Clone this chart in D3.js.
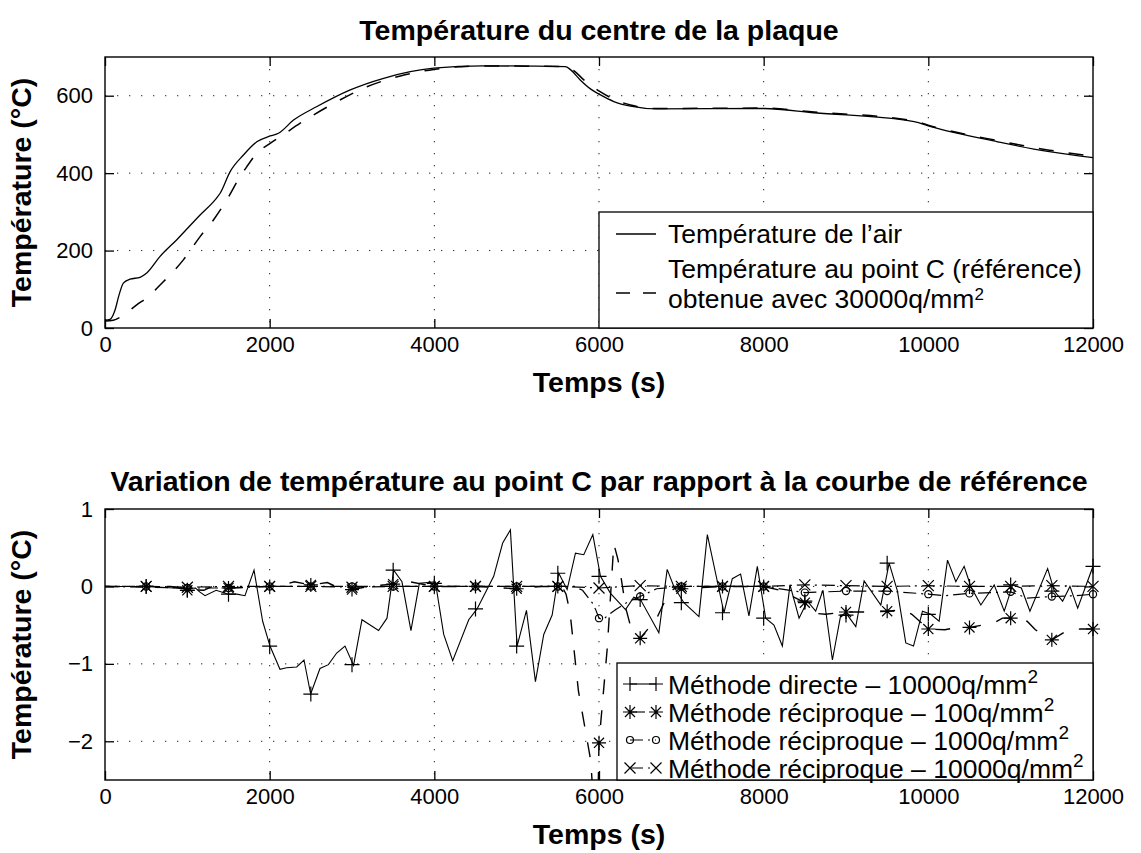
<!DOCTYPE html>
<html><head><meta charset="utf-8">
<script src="https://cdn.jsdelivr.net/npm/d3@7"></script>
<style>
body{margin:0;background:#fff}
text{font-family:"Liberation Sans",Arial,Helvetica,sans-serif;fill:#000}
</style>
</head><body>
<svg id="c" width="1141" height="853"></svg>
<script>
// ---------- DATA ----------
const xTicks = [0, 2000, 4000, 6000, 8000, 10000, 12000];
const y1Ticks = [0, 200, 400, 600];
const y2Ticks = [-2, -1, 0, 1];

// top chart
const airTime = [0,60,120,170,223,304,426,507,669,872,1155,1337,1398,1520,1682,1844,2006,2107,2290,2574,2979,3384,3992,4600,5593,5650,5775,5900,6018,6180,6383,6707,8004,8612,9828,10030,10841,11449,12000];
const airTemp = [20,22,45,85,116,126,131,142,185,228,292,331,348,404,447,481,496,503,537,572,615,645,671,677,675,668,640,617,602,585,573,566,567,556,533,520,481,456,440];
const refTime = [0,100,203,385,527,669,790,952,1155,1317,1479,1641,1723,1844,2006,2128,2371,2776,3181,3587,3992,4600,5593,5694,5815,6018,6200,6383,6707,8004,8612,9828,10030,10841,11449,12000];
const refTemp = [18,20,30,60,81,111,137,176,236,279,331,391,417,451,477,494,529,580,623,651,668,677,675,665,641,610,589,576,567,568,558,535,522,484,460,444];

// bottom chart
const markTimes = [500,1000,1500,2000,2500,3000,3500,4000,4500,5000,5500,6000,6500,7000,7500,8000,8500,9000,9500,10000,10500,11000,11500,12000];

const directTime = [0,500,1000,1100,1150,1215,1350,1500,1600,1700,1810,1915,2004,2125,2206,2328,2417,2498,2611,2713,2814,2915,3019,3121,3323,3425,3506,3607,3716,3818,4012,4114,4223,4418,4519,4721,4830,4924,5005,5119,5228,5329,5431,5511,5613,5714,5815,5925,6018,6140,6322,6423,6504,6727,6828,6909,7031,7214,7316,7518,7619,7720,7821,7923,8024,8125,8227,8320,8430,8531,8632,8720,8835,8936,9018,9119,9220,9423,9524,9625,9726,9820,9929,10030,10131,10233,10334,10435,10516,10638,10800,10922,11024,11130,11234,11449,11530,11631,11720,11814,12000];
const directVal = [0,0,-0.03,-0.02,-0.07,-0.12,-0.05,-0.1,-0.1,-0.12,0.21,-0.45,-0.77,-1.07,-1.05,-1.04,-0.95,-1.39,-1.06,-1.01,-0.86,-0.77,-1.02,-0.43,-0.57,-0.41,0.21,0.06,-0.57,0.04,0.06,-0.62,-0.96,-0.43,-0.29,0.13,0.56,0.73,-0.77,-0.31,-1.23,-0.62,-0.37,0.17,-0.04,0.43,0.41,0.67,0.13,-0.09,-0.3,-0.14,-0.17,-0.6,0.22,0.0,-0.21,-0.39,0.67,-0.34,0.1,0.16,-0.38,0.26,-0.41,-0.5,-0.77,0.02,-0.41,-0.19,-0.32,-0.05,-0.95,-0.37,-0.37,-0.52,0.07,-0.24,0.30,-0.06,-0.73,-0.77,-0.32,-0.36,-0.45,0.34,0.06,0.26,0.0,-0.24,0.02,-0.32,0.02,-0.02,-0.32,0.23,-0.06,-0.19,0.0,-0.28,0.26];
const directMarks = [0,-0.05,-0.1,-0.77,-1.39,-1.01,0.21,0.04,-0.29,-0.77,0.17,0.13,-0.17,-0.21,-0.34,-0.41,-0.19,-0.37,0.30,-0.36,0.0,0.02,-0.06,0.26];

const recip100Time = [0,500,800,1000,1200,1300,1500,2000,2200,2300,2500,2700,2800,3000,3200,3500,3700,4000,4500,5000,5300,5550,5600,5650,5750,5900,5975,6000,6100,6180,6230,6270,6330,6400,6500,6650,6710,6850,6950,7000,7500,8000,8200,8500,8650,8750,9000,9200,9500,9700,9800,10000,10200,10300,10500,10800,10900,11000,11200,11300,11500,11700,11850,12000];
const recip100Val = [0,0,0,-0.04,-0.05,0,-0.02,0,0.03,0.06,0.02,0.05,0,-0.04,0,0.03,0.06,0,0,-0.03,0,0,-0.1,-0.35,-1.35,-2.25,-3.5,-2.02,-0.8,0.55,0.35,0.1,-0.3,-0.58,-0.67,-0.48,-0.39,-0.08,0,-0.03,0,0,-0.05,-0.21,-0.35,-0.36,-0.33,-0.33,-0.32,-0.3,-0.36,-0.55,-0.56,-0.54,-0.53,-0.47,-0.41,-0.41,-0.45,-0.56,-0.69,-0.56,-0.55,-0.55];
const recip100Marks = [0,-0.05,-0.02,0,0.02,-0.04,0.03,0,0,-0.03,0,-2.02,-0.67,-0.03,0,0,-0.21,-0.33,-0.32,-0.55,-0.53,-0.41,-0.69,-0.55];

const recip1000Time = [0,1000,1500,2000,5500,5700,5800,5917,5960,6000,6050,6100,6200,6350,6500,6700,7000,8000,8500,9000,9500,10000,10200,10500,11000,11200,11500,11800,12000];
const recip1000Val = [0,-0.02,-0.02,0,0,0,-0.05,-0.21,-0.3,-0.41,-0.43,-0.38,-0.3,-0.2,-0.13,-0.03,0,0,-0.08,-0.06,-0.06,-0.1,-0.12,-0.09,-0.07,-0.15,-0.13,-0.12,-0.1];
const recip1000Marks = [0,-0.02,-0.02,0,0,0,0,0,0,0,0,-0.41,-0.13,0,0,0,-0.08,-0.06,-0.06,-0.1,-0.09,-0.07,-0.13,-0.1];

const recip10000Marks = [0,-0.01,0,0,0,-0.01,0,0,0,0,0,-0.02,0.01,0,0,0,0.02,0.01,0,0.01,0,0,0.01,0];

const topLegend = ["Température de l\u2019air", "Température au point C (référence)", "obtenue avec 30000q/mm"];
const bottomLegend = ["Méthode directe \u2013 10000q/mm", "Méthode réciproque \u2013 100q/mm", "Méthode réciproque \u2013 1000q/mm", "Méthode réciproque \u2013 10000q/mm"];

// ---------- LAYOUT ----------
const svg = d3.select("#c");
const L = 105, R = 1093;
const T1 = 57, B1 = 328, T2 = 509, B2 = 780;
const x = d3.scaleLinear().domain([0, 12000]).range([L, R]);
const y1 = d3.scaleLinear().domain([0, 700]).range([B1, T1]);
const y2 = d3.scaleLinear().domain([-2.5, 1]).range([B2, T2]);
const TICK = 9, TFS = 22, LFS = 28.5, LEGFS = 26.5;
const fmtY2 = d => d < 0 ? "\u2212" + Math.abs(d) : String(d);

function frame(yScale, yTicks, top, bottom, fmt, title, titleY, clipId) {
  const g = svg.append("g");
  g.append("g").selectAll("line.gx").data(xTicks.filter(t => t > 0 && t < 12000)).join("line")
    .attr("x1", d => x(d)).attr("x2", d => x(d)).attr("y1", top).attr("y2", bottom)
    .attr("stroke", "#222").attr("stroke-width", 1).attr("stroke-dasharray", "1.3,10.7");
  g.append("g").selectAll("line.gy").data(yTicks.filter(t => yScale(t) > top + 1 && yScale(t) < bottom - 1)).join("line")
    .attr("x1", L).attr("x2", R).attr("y1", d => yScale(d)).attr("y2", d => yScale(d))
    .attr("stroke", "#222").attr("stroke-width", 1).attr("stroke-dasharray", "1.3,10.7");
  const ax = g.append("g").attr("transform", `translate(0,${bottom})`)
    .call(d3.axisBottom(x).tickValues(xTicks).tickSize(-TICK).tickPadding(8).tickFormat(d3.format("d")));
  const axT = g.append("g").attr("transform", `translate(0,${top})`)
    .call(d3.axisTop(x).tickValues(xTicks).tickSize(-TICK).tickFormat(""));
  const ay = g.append("g").attr("transform", `translate(${L},0)`)
    .call(d3.axisLeft(yScale).tickValues(yTicks).tickSize(-TICK).tickPadding(12).tickFormat(fmt));
  const ayR = g.append("g").attr("transform", `translate(${R},0)`)
    .call(d3.axisRight(yScale).tickValues(yTicks).tickSize(-TICK).tickFormat(""));
  [ax, axT, ay, ayR].forEach(a => {
    a.select(".domain").remove();
    a.selectAll("line").attr("stroke", "#000").attr("stroke-width", 1.3);
    a.selectAll("text").attr("font-size", TFS).attr("fill", "#000")
      .style("font-family", '"Liberation Sans",Arial,sans-serif');
  });
  g.append("rect").attr("x", L).attr("y", top).attr("width", R - L).attr("height", bottom - top)
    .attr("fill", "none").attr("stroke", "#000").attr("stroke-width", 1.4);
  svg.append("text").attr("x", (L + R) / 2).attr("y", titleY).attr("text-anchor", "middle")
    .attr("font-size", LFS).attr("font-weight", "bold").text(title);
  svg.append("text").attr("x", (L + R) / 2).attr("y", bottom + 64).attr("text-anchor", "middle")
    .attr("font-size", LFS).attr("font-weight", "bold").text("Temps (s)");
  svg.append("text").attr("transform", `translate(31,${(top + bottom) / 2}) rotate(-90)`)
    .attr("text-anchor", "middle").attr("font-size", LFS).attr("font-weight", "bold").text("Température (°C)");
  svg.append("clipPath").attr("id", clipId).append("rect")
    .attr("x", L).attr("y", top).attr("width", R - L).attr("height", bottom - top);
}

frame(y1, y1Ticks, T1, B1, d3.format("d"), "Température du centre de la plaque", 40, "clip1");
frame(y2, y2Ticks, T2, B2, fmtY2, "Variation de température au point C par rapport à la courbe de référence", 491, "clip2");

// ---------- TOP LINES ----------
const line1 = d3.line().x(d => x(d[0])).y(d => y1(d[1])).curve(d3.curveMonotoneX);
const gTop = svg.append("g").attr("clip-path", "url(#clip1)");
gTop.append("path").attr("d", line1(d3.zip(refTime, refTemp)))
  .attr("fill", "none").attr("stroke", "#000").attr("stroke-width", 1.5).attr("stroke-dasharray", "15,15");
gTop.append("path").attr("d", line1(d3.zip(airTime, airTemp)))
  .attr("fill", "none").attr("stroke", "#000").attr("stroke-width", 1.3);

// top legend
const lg1 = svg.append("g");
lg1.append("rect").attr("x", 599).attr("y", 212).attr("width", R - 599).attr("height", B1 - 212)
  .attr("fill", "#fff").attr("stroke", "#000").attr("stroke-width", 1.3);
lg1.append("line").attr("x1", 616).attr("x2", 656).attr("y1", 234).attr("y2", 234)
  .attr("stroke", "#000").attr("stroke-width", 1.3);
lg1.append("line").attr("x1", 616).attr("x2", 656).attr("y1", 293).attr("y2", 293)
  .attr("stroke", "#000").attr("stroke-width", 1.5).attr("stroke-dasharray", "14,13");
lg1.append("text").attr("x", 668).attr("y", 243).attr("font-size", LEGFS).text(topLegend[0]);
lg1.append("text").attr("x", 668).attr("y", 278).attr("font-size", LEGFS).text(topLegend[1]);
const t3 = lg1.append("text").attr("x", 668).attr("y", 308).attr("font-size", LEGFS).text(topLegend[2]);
t3.append("tspan").attr("dy", -8).attr("font-size", 17).text("2");

// ---------- BOTTOM ----------
const line2 = d3.line().x(d => x(d[0])).y(d => y2(d[1]));
const gB = svg.append("g").attr("clip-path", "url(#clip2)");
const styles = {
  direct: {dash: null, w: 1.1},
  r100: {dash: "15,16", w: 1.4},
  r1000: {dash: "13,5,2,5", w: 1.2},
  r10000: {dash: "13,5,2,5", w: 1.2}
};
gB.append("path").attr("d", line2(d3.zip([0, ...markTimes], [0, ...recip10000Marks])))
  .attr("fill", "none").attr("stroke", "#000").attr("stroke-width", styles.r10000.w).attr("stroke-dasharray", styles.r10000.dash).attr("stroke-dashoffset", 8);
gB.append("path").attr("d", line2(d3.zip(recip1000Time, recip1000Val)))
  .attr("fill", "none").attr("stroke", "#000").attr("stroke-width", styles.r1000.w).attr("stroke-dasharray", styles.r1000.dash);
gB.append("path").attr("d", line2(d3.zip(recip100Time, recip100Val)))
  .attr("fill", "none").attr("stroke", "#000").attr("stroke-width", styles.r100.w).attr("stroke-dasharray", styles.r100.dash);
gB.append("path").attr("d", line2(d3.zip(directTime, directVal)))
  .attr("fill", "none").attr("stroke", "#000").attr("stroke-width", styles.direct.w);

const plusP = s => `M${-s},0H${s}M0,${-s}V${s}`;
const crossP = s => `M${-s},${-s}L${s},${s}M${-s},${s}L${s},${-s}`;
const starP = s => plusP(s) + crossP(s * 0.72);
const circP = r => `M${r},0A${r},${r},0,1,1,${-r},0A${r},${r},0,1,1,${r},0Z`;

function markers(vals, pathStr) {
  svg.append("g").selectAll("path").data(d3.zip(markTimes, vals)).join("path")
    .attr("transform", d => `translate(${x(d[0])},${y2(d[1])})`)
    .attr("d", pathStr).attr("fill", "none").attr("stroke", "#000").attr("stroke-width", 1.2);
}
markers(recip10000Marks, crossP(5.5));
markers(recip1000Marks, circP(3.6));
markers(recip100Marks, starP(7));
markers(directMarks, plusP(7.5));

// bottom legend
const lg2 = svg.append("g");
lg2.append("rect").attr("x", 617).attr("y", 663).attr("width", R - 617).attr("height", B2 - 663)
  .attr("fill", "#fff").attr("stroke", "#000").attr("stroke-width", 1.3);
const legRows = [
  {y: 684, m: plusP(7), st: styles.direct},
  {y: 712, m: starP(7), st: styles.r100},
  {y: 740, m: circP(3.5), st: styles.r1000},
  {y: 768, m: crossP(5.5), st: styles.r10000}
];
legRows.forEach((r, i) => {
  lg2.append("line").attr("x1", 630).attr("x2", 656).attr("y1", r.y).attr("y2", r.y)
    .attr("stroke", "#000").attr("stroke-width", 1.1).attr("stroke-dasharray", r.st.dash);
  [630, 656].forEach(cx => lg2.append("path").attr("transform", `translate(${cx},${r.y})`)
    .attr("d", r.m).attr("fill", "none").attr("stroke", "#000").attr("stroke-width", 1.2));
  const t = lg2.append("text").attr("x", 668).attr("y", r.y + 10).attr("font-size", LEGFS).text(bottomLegend[i]);
  t.append("tspan").attr("dy", -11).attr("font-size", 19).text("2");
});
</script>
</body></html>
